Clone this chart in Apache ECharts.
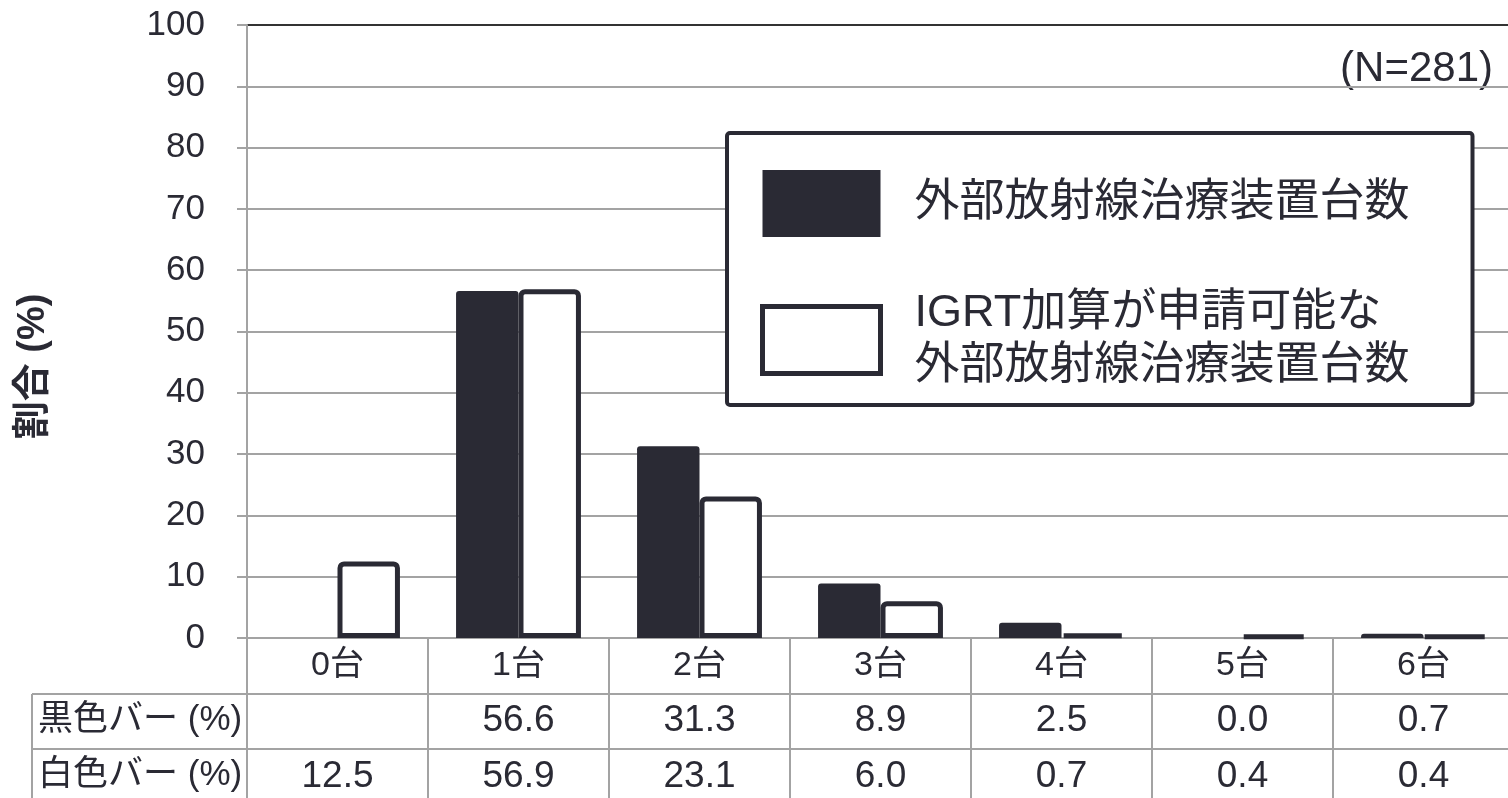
<!DOCTYPE html>
<html>
<head>
<meta charset="utf-8">
<script src="https://cdn.jsdelivr.net/npm/echarts@6/dist/echarts.min.js"></script>
<style>
html,body{margin:0;padding:0;background:#fff;}
#chart{width:1508px;height:798px;}
</style>
</head>
<body>
<div id="chart"></div>
<script>
const categories = ['0台', '1台', '2台', '3台', '4台', '5台', '6台'];
const blackValues = [null, 56.6, 31.3, 8.9, 2.5, 0.0, 0.7];
const whiteValues = [12.5, 56.9, 23.1, 6.0, 0.7, 0.4, 0.4];
const yTicks = [0, 10, 20, 30, 40, 50, 60, 70, 80, 90, 100];
const blackName = '外部放射線治療装置台数';
const whiteName = 'IGRT加算が申請可能な\n外部放射線治療装置台数';
const rowLabels = ['黒色バー (%)', '白色バー (%)'];
const nLabel = '(N=281)';
const yName = '割合 (%)';

const DARK = '#2a2a34';
const GRAY = '#a3a3a3';
const FONT = "'Liberation Sans', Arial, 'Noto Sans CJK JP', sans-serif";

const chart = echarts.init(document.getElementById('chart'));

function fmt(arr) {
  return function (v, i) {
    const x = arr[i];
    return (x === null || x === undefined) ? '' : x.toFixed(1);
  };
}

const baseXAxis = {
  type: 'category',
  data: categories,
  position: 'bottom',
  axisLine: { show: true, lineStyle: { color: GRAY, width: 2 } },
  axisTick: { show: true, interval: 0, alignWithLabel: false, inside: false, length: 56, lineStyle: { color: GRAY, width: 2 } },
  splitLine: { show: false },
  axisLabel: { interval: 0, color: DARK, fontSize: 34, fontFamily: FONT, margin: 11 }
};

const splitColors = yTicks.map((t, i) => i === yTicks.length - 1 ? '#333' : GRAY);

const option = {
  animation: false,
  backgroundColor: '#fff',
  textStyle: { fontFamily: FONT },
  grid: { left: 247, top: 25, width: 1267, bottom: 160, containLabel: false, outerBoundsMode: 'none' },
  legend: {
    show: true,
    orient: 'vertical',
    left: 727,
    top: 133,
    selectedMode: false,
    backgroundColor: '#fff',
    borderColor: DARK,
    borderWidth: 4,
    borderRadius: 3,
    padding: [37, 63, 12, 33],
    itemWidth: 118,
    itemHeight: 67,
    itemGap: 50,
    textStyle: { color: DARK, fontSize: 45, lineHeight: 53, fontFamily: FONT, padding: [0, 0, 0, 29] },
    data: [
      { name: blackName, icon: 'rect', itemStyle: { color: DARK, borderWidth: 0, borderRadius: 3 } },
      { name: whiteName, icon: 'rect', itemStyle: { color: '#fff', borderColor: DARK, borderWidth: 5 } }
    ]
  },
  xAxis: [
    Object.assign({}, baseXAxis),
    Object.assign({}, baseXAxis, {
      offset: 56,
      axisTick: Object.assign({}, baseXAxis.axisTick, { length: 55 }),
      axisLabel: Object.assign({}, baseXAxis.axisLabel, { formatter: fmt(blackValues), fontSize: 37, margin: 8 })
    }),
    Object.assign({}, baseXAxis, {
      offset: 111,
      axisTick: Object.assign({}, baseXAxis.axisTick, { length: 60 }),
      axisLabel: Object.assign({}, baseXAxis.axisLabel, { formatter: fmt(whiteValues), fontSize: 37, margin: 9 })
    })
  ],
  yAxis: {
    type: 'value',
    min: 0,
    max: 100,
    interval: 10,
    name: yName,
    nameLocation: 'middle',
    nameRotate: 90,
    nameGap: 194,
    nameTextStyle: { color: DARK, fontSize: 38, fontWeight: 'bold', fontFamily: FONT, padding: [0, 70, 0, 0] },
    axisLine: { show: true, lineStyle: { color: GRAY, width: 2 } },
    axisTick: { show: true, length: 10, lineStyle: { color: GRAY, width: 2 } },
    axisLabel: { color: DARK, fontSize: 35, fontFamily: FONT, margin: 42 },
    splitLine: { show: true, lineStyle: { color: splitColors, width: 2 } }
  },
  series: [
    {
      name: blackName,
      type: 'bar',
      xAxisIndex: 0,
      data: blackValues,
      barGap: '0%',
      barCategoryGap: '31%',
      itemStyle: { color: DARK, borderRadius: [3, 3, 0, 0] }
    },
    {
      name: whiteName,
      type: 'bar',
      xAxisIndex: 0,
      data: whiteValues,
      barGap: '0%',
      barCategoryGap: '31%',
      itemStyle: { color: '#fff', borderColor: DARK, borderWidth: 5, borderRadius: [4, 4, 0, 0] }
    }
  ],
  graphic: [
    { type: 'text', right: 15, top: 48, style: { text: nLabel, fill: DARK, font: '42px ' + FONT } },
    { type: 'line', shape: { x1: 32, y1: 694, x2: 247, y2: 694 }, style: { stroke: GRAY, lineWidth: 2 } },
    { type: 'line', shape: { x1: 32, y1: 749, x2: 247, y2: 749 }, style: { stroke: GRAY, lineWidth: 2 } },
    { type: 'line', shape: { x1: 32, y1: 694, x2: 32, y2: 798 }, style: { stroke: GRAY, lineWidth: 2 } },
    { type: 'text', left: 38, top: 703, style: { text: rowLabels[0], fill: DARK, font: '35px ' + FONT } },
    { type: 'text', left: 38, top: 758, style: { text: rowLabels[1], fill: DARK, font: '35px ' + FONT } }
  ]
};

chart.setOption(option);
</script>
</body>
</html>
